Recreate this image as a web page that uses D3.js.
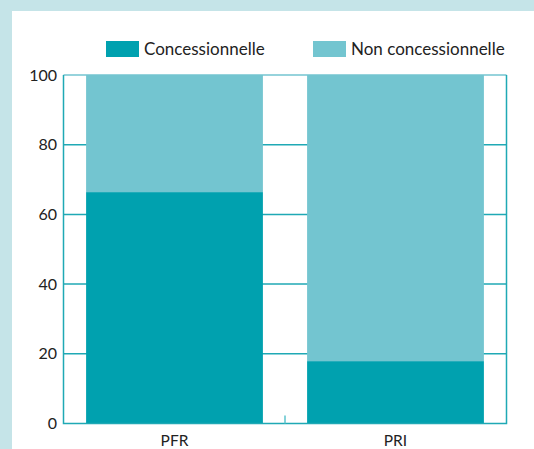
<!DOCTYPE html>
<html>
<head>
<meta charset="utf-8">
<script src="https://cdn.jsdelivr.net/npm/d3@7"></script>
<style>
  html, body { margin: 0; padding: 0; background: #c5e4e8; }
  svg { display: block; font-family: "Lato", "Open Sans", sans-serif; }
</style>
</head>
<body>
<div id="chart"></div>
<script>
// categories and series (percent)
var categories = ["PFR", "PRI"];
var concessionnelle = [66.4, 17.9];
var nonConcessionnelle = [33.6, 82.1];
var seriesNames = ["Concessionnelle", "Non concessionnelle"];
var yTicks = [0, 20, 40, 60, 80, 100];

var width = 534, height = 449;
var colors = ["#00a1af", "#73c5d0"];
var lineColor = "#1fa9b5";

var svg = d3.select("#chart").append("svg")
    .attr("width", width)
    .attr("height", height);

// white panel
svg.append("rect")
    .attr("x", 12).attr("y", 11)
    .attr("width", width - 12).attr("height", height - 11)
    .attr("fill", "#fff");

var x = d3.scaleBand().domain(categories).range([64, 506]).paddingInner(0.2).paddingOuter(0.1);
var y = d3.scaleLinear().domain([0, 100]).range([423.5, 75]);

// gridlines
svg.selectAll("line.grid")
    .data(yTicks.slice(1, -1))
    .enter().append("line")
    .attr("class", "grid")
    .attr("x1", 64).attr("x2", 506)
    .attr("y1", function (d) { return y(d); })
    .attr("y2", function (d) { return y(d); })
    .style("stroke", lineColor)
    .style("stroke-width", 1.5);

var stacked = categories.map(function (c, i) {
    return [
        { y0: 0, y1: concessionnelle[i], c: c, k: 0 },
        { y0: concessionnelle[i], y1: concessionnelle[i] + nonConcessionnelle[i], c: c, k: 1 }
    ];
});

svg.selectAll("g.bar")
    .data(stacked)
    .enter().append("g")
    .selectAll("rect")
    .data(function (d) { return d; })
    .enter().append("rect")
    .attr("x", function (d) { return x(d.c); })
    .attr("width", x.bandwidth())
    .attr("y", function (d) { return y(d.y1); })
    .attr("height", function (d) { return y(d.y0) - y(d.y1); })
    .attr("fill", function (d) { return colors[d.k]; });

// frame
svg.append("line").attr("x1", 63.5).attr("x2", 506.5).attr("y1", y(100)).attr("y2", y(100))
    .style("stroke", colors[1]).style("stroke-width", 1.5);
svg.append("path")
    .attr("d", "M63.5," + y(100) + "V" + y(0) + "H506.5V" + y(100))
    .attr("fill", "none")
    .style("stroke", lineColor).style("stroke-width", 1.5);

// center tick
svg.append("line")
    .attr("x1", 285).attr("x2", 285)
    .attr("y1", y(0)).attr("y2", y(0) - 8)
    .style("stroke", "#5cc3cc").style("stroke-width", 1.5);

// y labels
svg.selectAll("text.ytick")
    .data(yTicks)
    .enter().append("text")
    .attr("class", "ytick")
    .attr("x", 57)
    .attr("y", function (d) { return y(d) + 5.5; })
    .attr("text-anchor", "end")
    .style("font-size", "16px")
    .style("fill", "#222")
    .text(function (d) { return d; });

// x labels
svg.selectAll("text.xtick")
    .data(categories)
    .enter().append("text")
    .attr("x", function (d) { return x(d) + x.bandwidth() / 2; })
    .attr("y", 446)
    .attr("text-anchor", "middle")
    .style("font-size", "15.5px")
    .style("fill", "#222")
    .text(function (d) { return d; });

// legend
var legendX = [106, 313];
var lg = svg.selectAll("g.legend")
    .data(seriesNames)
    .enter().append("g")
    .attr("transform", function (d, i) { return "translate(" + legendX[i] + ",41)"; });
lg.append("rect").attr("width", 33).attr("height", 16)
    .attr("fill", function (d, i) { return colors[i]; });
lg.append("text").attr("x", 38).attr("y", 14)
    .style("font-size", "17px")
    .style("fill", "#222")
    .text(function (d) { return d; });
</script>
</body>
</html>
